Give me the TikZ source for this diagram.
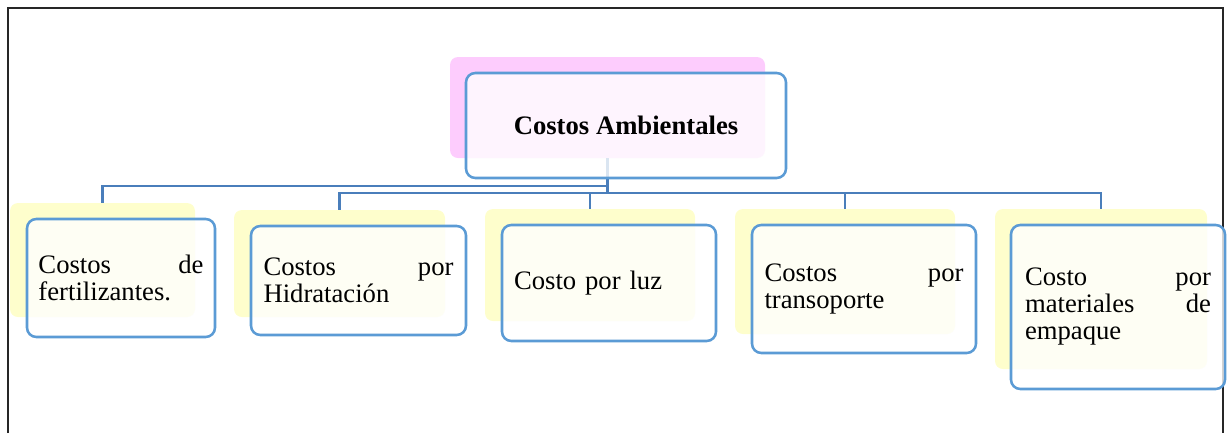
\documentclass[tikz,border=0pt]{standalone}
\usepackage{fontspec}
\setmainfont{Liberation Serif}
\newcommand\pxu{0.75pt}
\definecolor{boxline}{HTML}{5B9BD5}
\definecolor{linkline}{HTML}{4A7EBB}
\definecolor{shadepink}{HTML}{FDCCFD}
\definecolor{shadeyellow}{HTML}{FEFECC}
\tikzset{
  backbox/.style={rounded corners=6pt,inner sep=0pt},
  frontbox/.style={draw=boxline,line width=1.9pt,rounded corners=7pt,fill=white,fill opacity=0.8,text opacity=1,inner sep=0pt,align=left,font=\fontsize{20}{20.25}\selectfont},
  link/.style={draw=linkline,line width=1.8pt}
}
\begin{document}
\begin{tikzpicture}[x=0.75pt,y=-0.75pt]
    \useasboundingbox (0,0) rectangle (1231,433);
    \draw[line width=1.1pt,black!85] (8,433) -- (8,8) -- (1223,8) -- (1223,433);
    \node[backbox,fill=shadepink,minimum width=315*\pxu,minimum height=101*\pxu] (rootbk) at (607.5,107.5) {};
    \foreach \n/\x/\y/\w/\h in {1/102.5/260/185/114,2/339.5/263.5/211/107,3/590/265/210/112,4/845/271.5/220/125,5/1101/289/212/160}
        \node[backbox,fill=shadeyellow,minimum width=\w*\pxu,minimum height=\h*\pxu] (costo\n bk) at (\x,\y) {};
    \draw[link] (rootbk.south) -- ++(0,28) -| (costo1bk.north);
    \foreach \n in {2,...,5}
        \draw[link] (rootbk.south) -- ++(0,35) -| (costo\n bk.north);
    \node[frontbox,minimum width=320*\pxu,minimum height=105*\pxu,font=\fontsize{20}{24}\selectfont\bfseries] (root) at (626,125.5) {Costos Ambientales};
    \node[frontbox,minimum width=188*\pxu,minimum height=118*\pxu,text width=123.75pt] (costo1) at (121,278) {Costos\hfill de\\fertilizantes.};
    \node[frontbox,minimum width=215*\pxu,minimum height=109*\pxu,text width=142.5pt] (costo2) at (358.5,280.5) {Costos\hfill por\\Hidratación};
    \node[frontbox,minimum width=214*\pxu,minimum height=116*\pxu,text width=142.5pt] (costo3) at (609,283) {Costo por luz};
    \node[frontbox,minimum width=224*\pxu,minimum height=128*\pxu,text width=149.25pt] (costo4) at (864,289) {Costos\hfill por\\transoporte};
    \node[frontbox,minimum width=214*\pxu,minimum height=164*\pxu,text width=139.5pt] (costo5) at (1118,307) {Costo\hfill por\\materiales\hfill de\\empaque};
\end{tikzpicture}
\end{document}
